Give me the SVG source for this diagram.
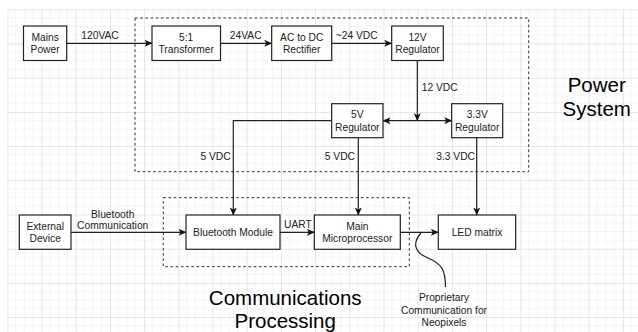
<svg xmlns="http://www.w3.org/2000/svg" width="638" height="332" viewBox="0 0 638 332">
  <defs>
    <pattern id="grid" x="7.3" y="9.3" width="34.2" height="34.2" patternUnits="userSpaceOnUse">
      <path d="M8.55 0V34.2M17.1 0V34.2M25.65 0V34.2M0 8.55H34.2M0 17.1H34.2M0 25.65H34.2" stroke="#f4f4f4" stroke-width="1" fill="none"/>
      <path d="M0.5 0V34.2M0 0.5H34.2" stroke="#e5e5e5" stroke-width="1" fill="none"/>
    </pattern>
    <marker id="arrow" viewBox="0 0 8 7" refX="7.5" refY="3.5" markerWidth="8" markerHeight="7" markerUnits="userSpaceOnUse" orient="auto-start-reverse">
      <path d="M0 0 L8 3.5 L0 7 L2 3.5 Z" fill="#111"/>
    </marker>
  </defs>
  <style>
    .box { fill: #ffffff; stroke: #222; stroke-width: 1.2; }
    .group { fill: none; stroke: #333; stroke-width: 1; stroke-dasharray: 2.6 2.6; }
    .edge { fill: none; stroke: #222; stroke-width: 1.2; }
    .lbl { font-family: "Liberation Sans", Arial, sans-serif; font-size: 10.26px; fill: #222; }
    .mid { text-anchor: middle; }
    .end { text-anchor: end; }
    .title { font-family: "Liberation Sans", Arial, sans-serif; font-size: 20.5px; fill: #000; text-anchor: middle; }
  </style>

  <!-- canvas grid -->
  <rect x="0" y="0" width="638" height="332" fill="#ffffff"/>
  <rect x="7.3" y="8.8" width="631" height="324" fill="url(#grid)"/>

  <!-- grouping frames -->
  <g id="power-system">
    <rect class="group" x="135" y="18" width="393.7" height="153.7"/>
    <text class="title" x="596.7" y="91.7">Power</text>
    <text class="title" x="596.7" y="116">System</text>
  </g>
  <g id="communications-processing">
    <rect class="group" x="163.3" y="197.7" width="246" height="69"/>
    <text class="title" x="285.2" y="304.5">Communications</text>
    <text class="title" x="285.2" y="328">Processing</text>
  </g>

  <!-- connectors -->
  <g id="connectors">
    <path class="edge" d="M66.7 43.3H152" marker-end="url(#arrow)"/>
    <path class="edge" d="M220.5 43.3H271.7" marker-end="url(#arrow)"/>
    <path class="edge" d="M331.7 43.3H391.7" marker-end="url(#arrow)"/>
    <path class="edge" d="M417.3 60.7V120.7" marker-end="url(#arrow)"/>
    <path class="edge" d="M383 120.7H451.7" marker-start="url(#arrow)" marker-end="url(#arrow)"/>
    <path class="edge" d="M331.7 120.7H233.3V215" marker-end="url(#arrow)"/>
    <path class="edge" d="M358.3 137.7V215" marker-end="url(#arrow)"/>
    <path class="edge" d="M476.7 137.7V215" marker-end="url(#arrow)"/>
    <path class="edge" d="M71 232.3H186" marker-end="url(#arrow)"/>
    <path class="edge" d="M280 232.3H314.3" marker-end="url(#arrow)"/>
    <path class="edge" d="M400.3 232.3H438.3" marker-end="url(#arrow)"/>
    <path class="edge" d="M421 233 C413 242, 413 252, 428 258 C442 264, 445.5 270, 445.5 287"/>

    <text class="lbl mid" x="100" y="38.7">120VAC</text>
    <text class="lbl mid" x="245.7" y="38.7">24VAC</text>
    <text class="lbl mid" x="356.7" y="38.7">~24 VDC</text>
    <text class="lbl" x="421.7" y="91">12 VDC</text>
    <text class="lbl end" x="230.7" y="159.5">5 VDC</text>
    <text class="lbl end" x="355" y="159.5">5 VDC</text>
    <text class="lbl end" x="475" y="159.5">3.3 VDC</text>
    <text class="lbl mid" x="112.7" y="217.6">Bluetooth</text>
    <text class="lbl mid" x="112.7" y="229.4">Communication</text>
    <text class="lbl" x="284" y="227.7">UART</text>
    <text class="lbl mid" x="444" y="301.4">Proprietary</text>
    <text class="lbl mid" x="444" y="313.7">Communication for</text>
    <text class="lbl mid" x="444" y="326">Neopixels</text>
  </g>

  <!-- nodes -->
  <g id="mains-power">
    <rect class="box" x="23.5" y="26" width="43.2" height="34.5"/>
    <text class="lbl mid" x="45.1" y="41">Mains</text>
    <text class="lbl mid" x="45.1" y="53.3">Power</text>
  </g>
  <g id="transformer">
    <rect class="box" x="152" y="26" width="68.5" height="34.5"/>
    <text class="lbl mid" x="186.2" y="41">5:1</text>
    <text class="lbl mid" x="186.2" y="53.3">Transformer</text>
  </g>
  <g id="rectifier">
    <rect class="box" x="271.7" y="26" width="60" height="34.5"/>
    <text class="lbl mid" x="301.7" y="41">AC to DC</text>
    <text class="lbl mid" x="301.7" y="53.3">Rectifier</text>
  </g>
  <g id="regulator-12v">
    <rect class="box" x="391.7" y="26" width="51.6" height="34.5"/>
    <text class="lbl mid" x="417.5" y="41">12V</text>
    <text class="lbl mid" x="417.5" y="53.3">Regulator</text>
  </g>
  <g id="regulator-5v">
    <rect class="box" x="331.7" y="103.7" width="51.3" height="34"/>
    <text class="lbl mid" x="357.3" y="118.3">5V</text>
    <text class="lbl mid" x="357.3" y="130.6">Regulator</text>
  </g>
  <g id="regulator-3v3">
    <rect class="box" x="451.7" y="103.7" width="51" height="34"/>
    <text class="lbl mid" x="477.2" y="118.3">3.3V</text>
    <text class="lbl mid" x="477.2" y="130.6">Regulator</text>
  </g>
  <g id="external-device">
    <rect class="box" x="19.3" y="215" width="51.7" height="34.3"/>
    <text class="lbl mid" x="45.2" y="230">External</text>
    <text class="lbl mid" x="45.2" y="242.3">Device</text>
  </g>
  <g id="bluetooth-module">
    <rect class="box" x="186" y="215" width="94" height="34.3"/>
    <text class="lbl mid" x="233" y="236">Bluetooth Module</text>
  </g>
  <g id="main-microprocessor">
    <rect class="box" x="314.3" y="215" width="86" height="34.3"/>
    <text class="lbl mid" x="357.3" y="230">Main</text>
    <text class="lbl mid" x="357.3" y="242.3">Microprocessor</text>
  </g>
  <g id="led-matrix">
    <rect class="box" x="438.3" y="215" width="77.4" height="34.3"/>
    <text class="lbl mid" x="477" y="236">LED matrix</text>
  </g>
</svg>
